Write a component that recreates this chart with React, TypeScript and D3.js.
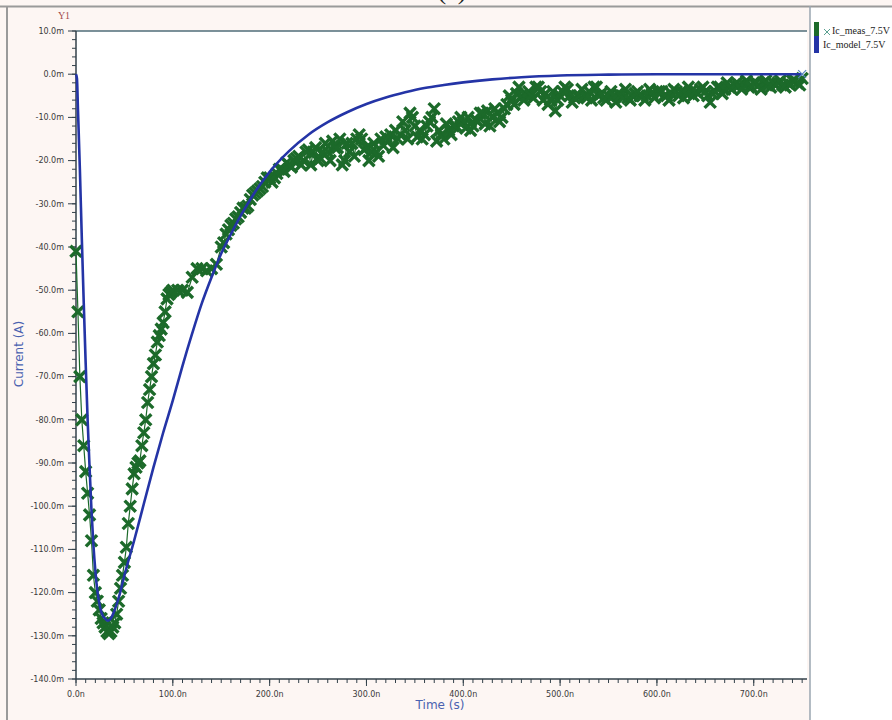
import React from "react";
import * as d3 from "d3";

// ---- data ----
// measured current (mA) sampled at 2 ns for 0..100 ns, then 5 ns up to 750 ns
const measTimeA = d3.range(0, 101, 2);
const measTimeB = d3.range(105, 751, 5);
const measTime = [...measTimeA, ...measTimeB];
const measCurrent = [
  -41, -55, -70, -80, -86, -92, -97, -102, -108, -116, -120, -122, -124, -126, -127, -128, -129, -129.5, -129, -128,
  -127, -125, -122, -119, -116, -113, -109.5, -104, -100, -96, -92.5, -91, -90, -89.5, -86, -83, -80, -76, -73, -70,
  -67, -65, -62, -60.5, -59, -57.5, -55, -52, -51, -50.5, -50,
  -50, -50, -50.5, -47, -45, -45, -45.5, -45, -44, -40, -37, -35, -33.5, -32, -31, -29, -27.5, -26.5, -25, -24,
  -24, -22, -22.5, -21, -20, -19, -20, -17.5, -18, -20, -18, -18, -15.5, -17, -21, -16, -16, -15, -15, -17,
  -18, -18, -15, -14.5, -14, -13, -14, -13, -9, -12, -13, -14, -11, -8, -13, -15, -13, -12, -11, -11,
  -10, -12, -11, -9, -8.5, -10, -9, -10, -7, -6, -4.5, -5, -5, -5, -3, -4, -4.5, -6, -8.5, -5,
  -3, -5, -5.5, -5, -5, -4, -3, -5, -5.5, -5, -5, -4.5, -5.5, -5.5, -5, -4, -5, -5, -4.5, -4,
  -4, -5, -4.5, -4, -4, -4.5, -4, -4, -3.5, -4, -6.5, -4, -3, -3.5, -3, -2.5, -2.5, -2.5, -3, -2,
  -2.5, -2, -2.5, -2, -2, -2.5, -2, -1.5, -2, -1,
];
// in-between measured samples (mA) at 152.5 .. 747.5 ns, every 5 ns
const measTimeC = d3.range(152.5, 750, 5);
const measCurrentC = [
  -39, -36, -34.5, -33, -31, -30.5, -28, -27, -26, -24, -25, -23, -22, -20.5, -21.5, -19.5,
  -21, -18, -21, -17, -19.5, -16, -20, -17, -15, -20, -18, -19, -14, -17.5, -20, -16, -19, -16.5, -15.5, -17, -15,
  -11, -15, -10, -14.5, -15, -12, -10, -15.5, -14, -11.5, -14, -12, -10, -12.5, -13, -10.5, -9, -11.5, -12, -8, -11,
  -8, -5, -7, -3, -6, -4, -5.5, -3, -6, -7, -4, -6, -4, -3.5, -6.5, -5, -3.5, -5.5, -6, -3, -4.5, -6,
  -4, -6.5, -5, -3.5, -6, -4.5, -5, -6, -3.5, -5.5, -4, -5, -6, -3.5, -5, -5.5, -3, -5, -4.5, -3,
  -5, -4.5, -3, -4.5, -2, -3.5, -2, -3.5, -1.5, -3, -2, -3.5, -1.5, -3, -2.5, -1.5, -3, -2.5, -1.5, -2.5,
];
// model current (mA)
const modelTime = [0, 1, 2, 4, 6, 8, 10, 12, 14, 16, 18, 20, 22, 25, 28, 30, 33, 36, 40, 45, 50, 60, 70, 80, 90, 100,
  110, 120, 130, 140, 150, 160, 170, 180, 190, 200, 220, 240, 260, 280, 300, 320, 340, 360, 380, 400, 430, 460, 500,
  550, 600, 650, 700, 750];
const modelCurrent = [0, -1, -8, -22, -38, -53, -67, -80, -91, -101, -109, -115, -119.5, -123.5, -125.5, -126, -126.5,
  -126, -124, -120.5, -116, -108, -99.5, -91, -83, -75.5, -67.5, -60, -53, -47, -41.5, -37, -32.8, -29, -25.6, -22.6,
  -17.8, -14, -11.1, -8.8, -6.9, -5.4, -4.2, -3.2, -2.5, -1.9, -1.2, -0.7, -0.3, -0.1, 0, 0, 0, 0];

const yTicks = [10, 0, -10, -20, -30, -40, -50, -60, -70, -80, -90, -100, -110, -120, -130, -140];
const xTicks = [0, 100, 200, 300, 400, 500, 600, 700];
const seriesNames = ["Ic_meas_7.5V", "Ic_model_7.5V"];

const W = 892;
const H = 720;
const L = 76, R = 807, T = 31, B = 679;
const GREEN = "#1c6a2a";
const BLUE = "#2434a6";
const BG = "#fdf6f3";
const TICKFONT = "'DejaVu Sans', Verdana, sans-serif";

export default function App() {
  const x = d3.scaleLinear().domain([0, 755]).range([L, R]);
  const y = d3.scaleLinear().domain([-140, 10]).range([B, T]);

  const n = Math.min(measTime.length, measCurrent.length);
  const nc = Math.min(measTimeC.length, measCurrentC.length);
  const meas = [
    ...d3.range(n).map((i) => [measTime[i], measCurrent[i]] as [number, number]),
    ...d3.range(nc).map((i) => [measTimeC[i], measCurrentC[i]] as [number, number]),
  ].sort((a, b) => a[0] - b[0]);
  const model = modelTime.map((t, i) => [t, modelCurrent[i]] as [number, number]);

  const line = d3.line<[number, number]>().x((d) => x(d[0])).y((d) => y(d[1]));
  const modelLine = d3
    .line<[number, number]>()
    .x((d) => x(d[0]))
    .y((d) => y(d[1]))
    .curve(d3.curveMonotoneX);

  const yMinor = d3.range(-140, 10.01, 2);
  const xMinor = d3.range(0, 751, 10);
  const s = 5.6;
  const xMark = `M${-s},${-s}L${s},${s}M${-s},${s}L${s},${-s}`;

  const lastModel = model[model.length - 1];

  return (
    <svg
      width={W}
      height={H}
      style={{ position: "absolute", left: 0, top: 0, background: BG }}
      fontFamily="'Liberation Sans', Arial, sans-serif"
    >
      <rect x={0} y={0} width={W} height={H} fill={BG} />
      <rect x={810} y={7} width={W - 810} height={H - 7} fill="#ffffff" />
      {/* clipped title */}
      <text x={452} y={-1} textAnchor="middle" fontFamily="'Liberation Serif', serif" fontSize={26} fill="#222">
        (a)
      </text>
      {/* outer frame */}
      <line x1={0} x2={W} y1={6.5} y2={6.5} stroke="#9a9a9a" strokeWidth={2} />
      <line x1={7} x2={7} y1={6} y2={H} stroke="#9a9a9a" strokeWidth={2} />
      <line x1={810} x2={810} y1={6} y2={H} stroke="#9aa6b0" strokeWidth={1.5} />

      {/* plot area */}
      <rect x={L} y={T} width={R - L} height={B - T} fill="#ffffff" />
      <line x1={L} x2={R} y1={T} y2={T} stroke="#4f6d78" strokeWidth={1.5} />

      {/* y axis */}
      <line x1={L} x2={L} y1={T} y2={B} stroke="#33414a" strokeWidth={1.5} />
      {yMinor.map((v) => (
        <line key={"ym" + v} x1={L - 4} x2={L} y1={y(v)} y2={y(v)} stroke="#33414a" strokeWidth={1} />
      ))}
      {yTicks.map((v) => (
        <g key={"yt" + v}>
          <line x1={L - 8} x2={L} y1={y(v)} y2={y(v)} stroke="#33414a" strokeWidth={1} />
          <text x={L - 12} y={y(v)} dy="0.35em" textAnchor="end" fontSize={8} fill="#3a3a3a" fontFamily={TICKFONT}>
            {`${v.toFixed(1)}m`}
          </text>
        </g>
      ))}
      <text x={64} y={19} textAnchor="middle" fontFamily="'Liberation Serif', serif" fontSize={10} fill="#a24c4c">
        Y1
      </text>
      <text
        transform={`translate(23,354) rotate(-90)`}
        textAnchor="middle"
        fontSize={12}
        fill="#4a62b0"
        fontFamily="'DejaVu Sans', Verdana, sans-serif"
      >
        Current (A)
      </text>

      {/* x axis */}
      <line x1={L} x2={R} y1={B} y2={B} stroke="#33414a" strokeWidth={1.5} />
      {xMinor.map((v) => (
        <line key={"xm" + v} x1={x(v)} x2={x(v)} y1={B} y2={B + 4} stroke="#33414a" strokeWidth={1} />
      ))}
      {xTicks.map((v) => (
        <g key={"xt" + v}>
          <line x1={x(v)} x2={x(v)} y1={B} y2={B + 7} stroke="#33414a" strokeWidth={1} />
          <text x={x(v)} y={697} textAnchor="middle" fontSize={8} fill="#3a3a3a" fontFamily={TICKFONT}>
            {`${v.toFixed(1)}n`}
          </text>
        </g>
      ))}
      <text x={440} y={709} textAnchor="middle" fontSize={12} fill="#4a62b0" fontFamily="'DejaVu Sans', Verdana, sans-serif">
        Time (s)
      </text>

      {/* measured */}
      <path d={line(meas) ?? ""} fill="none" stroke={GREEN} strokeWidth={1.2} />
      {meas.map((d, i) => (
        <path
          key={"m" + i}
          d={xMark}
          transform={`translate(${x(d[0])},${y(d[1])})`}
          stroke={GREEN}
          strokeWidth={3.4}
          fill="none"
        />
      ))}

      {/* model */}
      <path d={modelLine(model) ?? ""} fill="none" stroke={BLUE} strokeWidth={2.6} />
      <path
        d={`M-4,-4L4,4M-4,4L4,-4`}
        transform={`translate(${x(lastModel[0])},${y(lastModel[1])})`}
        stroke="#5a86c0"
        strokeWidth={1.2}
        fill="none"
      />

      {/* legend */}
      <rect x={814} y={22} width={5} height={14} fill={GREEN} />
      <rect x={814} y={36} width={5} height={17} fill={BLUE} />
      <path d="M-3,-3L3,3M-3,3L3,-3" transform="translate(827,32)" stroke="#5aa090" strokeWidth={1} fill="none" />
      <text x={832} y={34} fontFamily="'Liberation Serif', serif" fontSize={10} fill="#222">
        {seriesNames[0]}
      </text>
      <text x={823} y={48} fontFamily="'Liberation Serif', serif" fontSize={10} fill="#222">
        {seriesNames[1]}
      </text>
    </svg>
  );
}
